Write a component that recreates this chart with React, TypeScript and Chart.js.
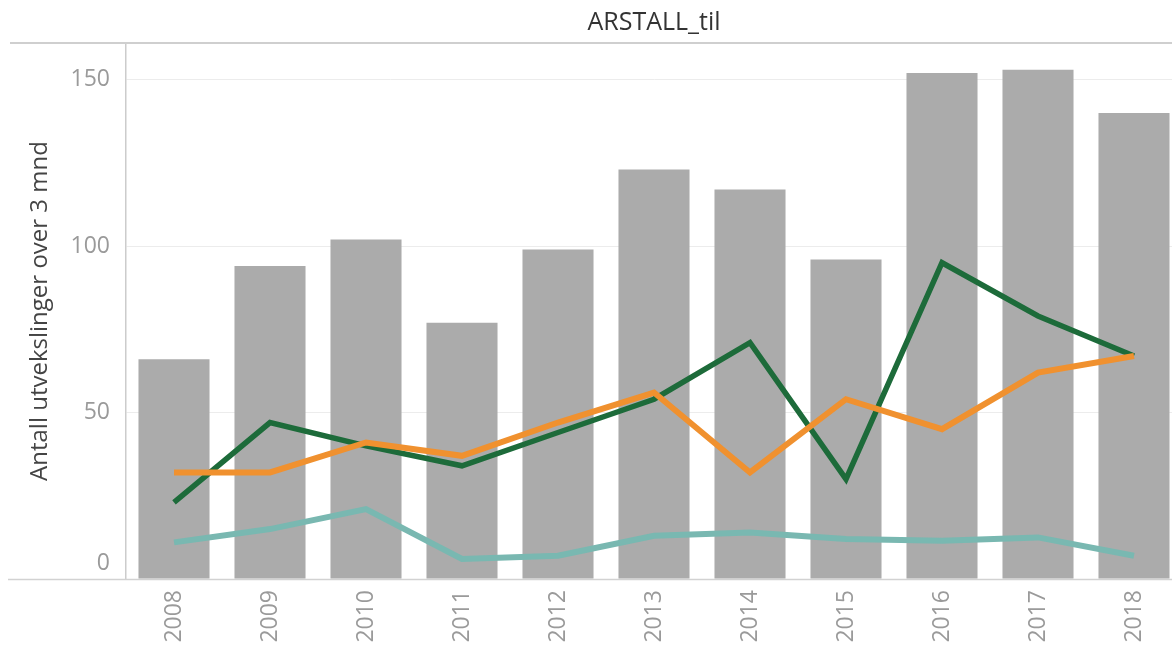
import React, { useEffect, useRef } from "react";
import { Chart, registerables } from "chart.js";

Chart.register(...registerables);

const years = ["2008", "2009", "2010", "2011", "2012", "2013", "2014", "2015", "2016", "2017", "2018"];
const totalValues = [66, 94, 102, 77, 99, 123, 117, 96, 152, 153, 140];
const greenValues = [23, 47, 40, 34, 44, 54, 71, 30, 95, 79, 67];
const orangeValues = [32, 32, 41, 37, 47, 56, 32, 54, 45, 62, 67];
const tealValues = [11, 15, 21, 6, 7, 13, 14, 12, 11.5, 12.5, 7];
const yTickValues = [0, 50, 100, 150];
const chartTitle = "ARSTALL_til";
const yAxisTitle = "Antall utvekslinger over 3 mnd";

const FONT = "'Open Sans', 'Noto Sans', sans-serif";

const decorPlugin = {
  id: "decor",
  beforeDatasetsDraw(chart: any) {
    const ctx = chart.ctx;
    const { chartArea } = chart;
    ctx.save();
    ctx.strokeStyle = "#cfcfcf";
    ctx.lineWidth = 2;
    ctx.beginPath();
    ctx.moveTo(10, chartArea.top);
    ctx.lineTo(chart.width, chartArea.top);
    ctx.stroke();
    ctx.strokeStyle = "#d2d2d2";
    ctx.lineWidth = 1.5;
    ctx.beginPath();
    ctx.moveTo(8, chartArea.bottom + 0.5);
    ctx.lineTo(chart.width, chartArea.bottom + 0.5);
    ctx.stroke();
    ctx.restore();
  },
  afterDraw(chart: any) {
    const ctx = chart.ctx;
    const { chartArea } = chart;
    const yScale = chart.scales.y;
    ctx.save();
    // title
    ctx.fillStyle = "#333333";
    ctx.font = `25px ${FONT}`;
    ctx.textAlign = "center";
    ctx.textBaseline = "middle";
    ctx.fillText(chartTitle, (chartArea.left + chartArea.right) / 2, 23);
    // y tick labels
    ctx.fillStyle = "#9a9a9a";
    ctx.font = `23px ${FONT}`;
    ctx.textAlign = "right";
    for (const v of yTickValues) {
      let y = yScale.getPixelForValue(v);
      if (v === 0) y -= 16;
      ctx.fillText(String(v), 110, y);
    }
    // y axis title
    ctx.fillStyle = "#444444";
    ctx.font = `24px ${FONT}`;
    ctx.translate(40, (chartArea.top + chartArea.bottom) / 2);
    ctx.rotate(-Math.PI / 2);
    ctx.textAlign = "center";
    ctx.textBaseline = "middle";
    ctx.fillText(yAxisTitle, 0, 0);
    ctx.restore();
  },
};

export default function App() {
  const canvasRef = useRef<HTMLCanvasElement | null>(null);

  useEffect(() => {
    if (!canvasRef.current) return;
    const chart = new Chart(canvasRef.current, {
      type: "bar",
      data: {
        labels: years,
        datasets: [
          {
            type: "line",
            label: "Orange",
            data: orangeValues,
            borderColor: "#f0912f",
            backgroundColor: "#f0912f",
            borderWidth: 6,
            pointRadius: 0,
            tension: 0,
            order: 1,
          } as any,
          {
            type: "line",
            label: "Green",
            data: greenValues,
            borderColor: "#1d6b3a",
            backgroundColor: "#1d6b3a",
            borderWidth: 5.5,
            pointRadius: 0,
            tension: 0,
            order: 2,
          } as any,
          {
            type: "line",
            label: "Teal",
            data: tealValues,
            borderColor: "#79b8b1",
            backgroundColor: "#79b8b1",
            borderWidth: 6,
            pointRadius: 0,
            tension: 0,
            order: 3,
          } as any,
          {
            type: "bar",
            label: "Total",
            data: totalValues,
            backgroundColor: "#ababab",
            borderWidth: 0,
            barPercentage: 0.74,
            categoryPercentage: 1,
            order: 10,
          },
        ],
      },
      options: {
        responsive: false,
        animation: false,
        devicePixelRatio: 1,
        layout: { padding: { top: 43, left: 0, right: 0, bottom: 0 } },
        plugins: {
          legend: { display: false },
          tooltip: { enabled: false },
          title: { display: false },
        },
        scales: {
          x: {
            grid: { display: false, drawTicks: false },
            border: { display: false },
            ticks: {
              autoSkip: false,
              minRotation: 90,
              maxRotation: 90,
              padding: 11,
              color: "#9a9a9a",
              font: { family: FONT, size: 23 },
            },
            afterFit: (s: any) => {
              s.height = 68;
            },
          },
          y: {
            min: 0,
            max: 161,
            ticks: { stepSize: 50, display: false },
            grid: {
              color: (c: any) => (c.tick && c.tick.value % 50 === 0 && c.tick.value > 0 ? "#ececec" : "rgba(0,0,0,0)"),
              drawTicks: false,
            },
            border: { display: true, color: "#cccccc", width: 1.5 },
            afterFit: (s: any) => {
              s.width = 126;
            },
          },
        },
      },
      plugins: [decorPlugin],
    });
    return () => chart.destroy();
  }, []);

  return (
    <div
      style={{
        position: "fixed",
        left: 0,
        top: 0,
        width: 1172,
        height: 647,
        overflow: "hidden",
        background: "#ffffff",
      }}
    >
      <canvas ref={canvasRef} width={1182} height={647} style={{ display: "block" }} />
    </div>
  );
}
